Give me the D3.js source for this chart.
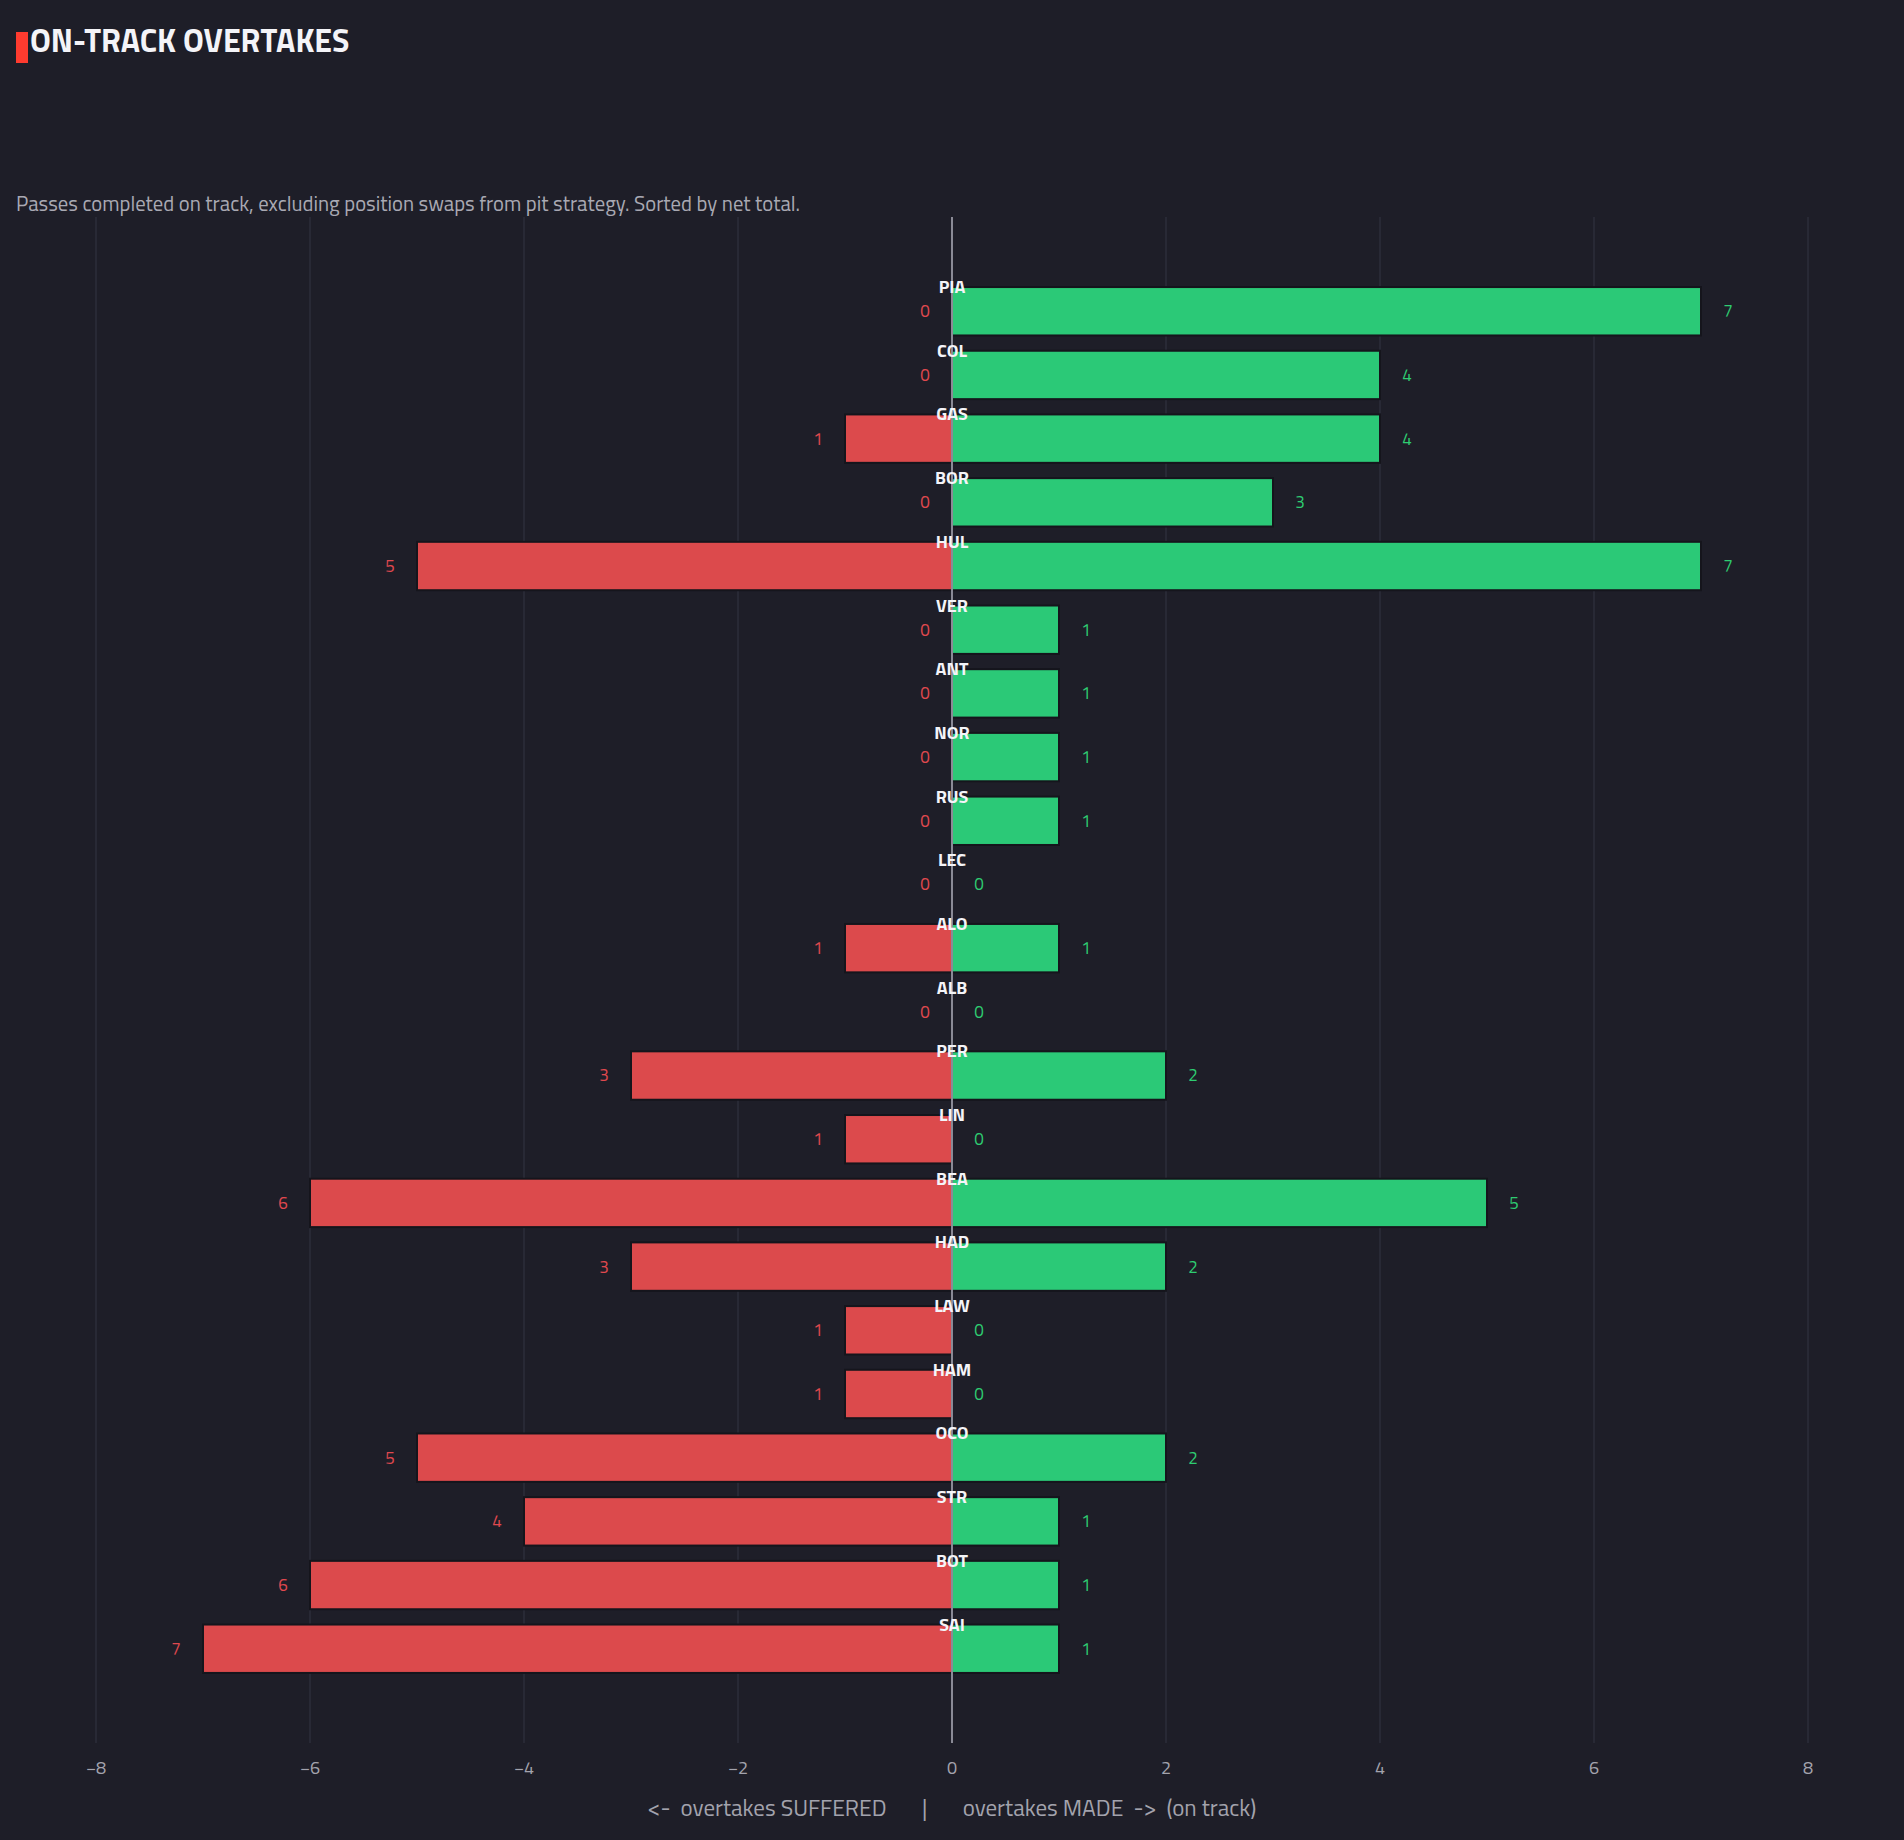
<!DOCTYPE html>
<html>
<head>
<meta charset="utf-8">
<script src="https://cdn.jsdelivr.net/npm/d3@7"></script>
<style>
    html, body { margin: 0; padding: 0; background: #1e1e28; }
    svg { display: block; }
    text { font-family: "Titillium Web", "DejaVu Sans Condensed", "Liberation Sans Narrow", Roboto, sans-serif; }
</style>
</head>
<body>
<div id="chart"></div>
<script>
let drivers = ['PIA', 'COL', 'GAS', 'BOR', 'HUL', 'VER', 'ANT', 'NOR', 'RUS', 'LEC', 'ALO',
    'ALB', 'PER', 'LIN', 'BEA', 'HAD', 'LAW', 'HAM', 'OCO', 'STR', 'BOT', 'SAI'];
let suffered = [0, 0, 1, 0, 5, 0, 0, 0, 0, 0, 1, 0, 3, 1, 6, 3, 1, 1, 5, 4, 6, 7];
let made = [7, 4, 4, 3, 7, 1, 1, 1, 1, 0, 1, 0, 2, 0, 5, 2, 0, 0, 2, 1, 1, 1];
let xTicks = [-8, -6, -4, -2, 0, 2, 4, 6, 8];

const W = 1904, H = 1840;
const BG = '#1e1e28';
const GREEN = '#2bc977';
const RED = '#dc4a4c';

let rows = drivers.map((d, i) => ({name: d, suf: suffered[i], made: made[i]}));

let svg = d3.select('#chart').append('svg')
    .attr('width', W)
    .attr('height', H);

svg.append('rect').attr('width', W).attr('height', H).attr('fill', BG);

let x = d3.scaleLinear().domain([-8, 8]).range([96, 1808]);
let y = d3.scaleBand().domain(drivers).range([217, 1743])
    .paddingInner(0.24).paddingOuter(1.1);

// grid
svg.append('g')
    .selectAll('line')
    .data(xTicks.filter(t => t !== 0))
    .join('line')
    .attr('x1', d => x(d)).attr('x2', d => x(d))
    .attr('y1', 217).attr('y2', 1743)
    .attr('stroke', '#2d2e3a')
    .attr('stroke-width', 1.5);

// bars
let bars = svg.append('g');
bars.selectAll('rect.suf')
    .data(rows.filter(r => r.suf > 0))
    .join('rect')
    .attr('class', 'suf')
    .attr('x', d => x(-d.suf))
    .attr('y', d => y(d.name))
    .attr('width', d => x(0) - x(-d.suf))
    .attr('height', y.bandwidth())
    .attr('fill', RED)
    .attr('stroke', '#15151c')
    .attr('stroke-width', 2);

bars.selectAll('rect.made')
    .data(rows.filter(r => r.made > 0))
    .join('rect')
    .attr('class', 'made')
    .attr('x', x(0))
    .attr('y', d => y(d.name))
    .attr('width', d => x(d.made) - x(0))
    .attr('height', y.bandwidth())
    .attr('fill', GREEN)
    .attr('stroke', '#15151c')
    .attr('stroke-width', 2);

// zero line
svg.append('line')
    .attr('x1', x(0)).attr('x2', x(0))
    .attr('y1', 217).attr('y2', 1743)
    .attr('stroke', '#8a8a96')
    .attr('stroke-width', 2);

// value labels
let labels = svg.append('g').attr('font-size', 17).attr('text-anchor', 'middle');
labels.selectAll('text.suf')
    .data(rows)
    .join('text')
    .attr('x', d => x(-d.suf) - 27)
    .attr('y', d => y(d.name) + y.bandwidth() / 2)
    .attr('dy', '0.35em')
    .attr('fill', '#e0494f')
    .text(d => d.suf);

labels.selectAll('text.made')
    .data(rows)
    .join('text')
    .attr('x', d => x(d.made) + 27)
    .attr('y', d => y(d.name) + y.bandwidth() / 2)
    .attr('dy', '0.35em')
    .attr('fill', '#2ecc71')
    .text(d => d.made);

// driver names
svg.append('g')
    .selectAll('text')
    .data(rows)
    .join('text')
    .attr('x', x(0))
    .attr('y', d => y(d.name) + 6)
    .attr('text-anchor', 'middle')
    .attr('font-size', 18)
    .attr('font-weight', 'bold')
    .attr('fill', '#f4f4f8')
    .text(d => d.name);

// x axis tick labels
svg.append('g')
    .selectAll('text')
    .data(xTicks)
    .join('text')
    .attr('x', d => x(d))
    .attr('y', 1774)
    .attr('text-anchor', 'middle')
    .attr('font-size', 18)
    .attr('fill', '#a3a3ad')
    .text(d => d3.format('')(d).replace('-', '\u2212'));

svg.append('text')
    .attr('x', x(0))
    .attr('y', 1816)
    .attr('text-anchor', 'middle')
    .attr('font-size', 23)
    .attr('fill', '#a3a3ad')
    .attr('xml:space', 'preserve')
    .text('<-  overtakes SUFFERED       |       overtakes MADE  ->  (on track)');

// title
svg.append('rect')
    .attr('x', 16).attr('y', 32)
    .attr('width', 12).attr('height', 31)
    .attr('fill', '#ff3b2f');

svg.append('text')
    .attr('x', 30)
    .attr('y', 52)
    .attr('font-size', 32)
    .attr('font-weight', 'bold')
    .attr('fill', '#f4f4f8')
    .text('ON-TRACK OVERTAKES');

svg.append('text')
    .attr('x', 16)
    .attr('y', 211)
    .attr('font-size', 20.7)
    .attr('fill', '#a9a9b3')
    .text('Passes completed on track, excluding position swaps from pit strategy. Sorted by net total.');
</script>
</body>
</html>
